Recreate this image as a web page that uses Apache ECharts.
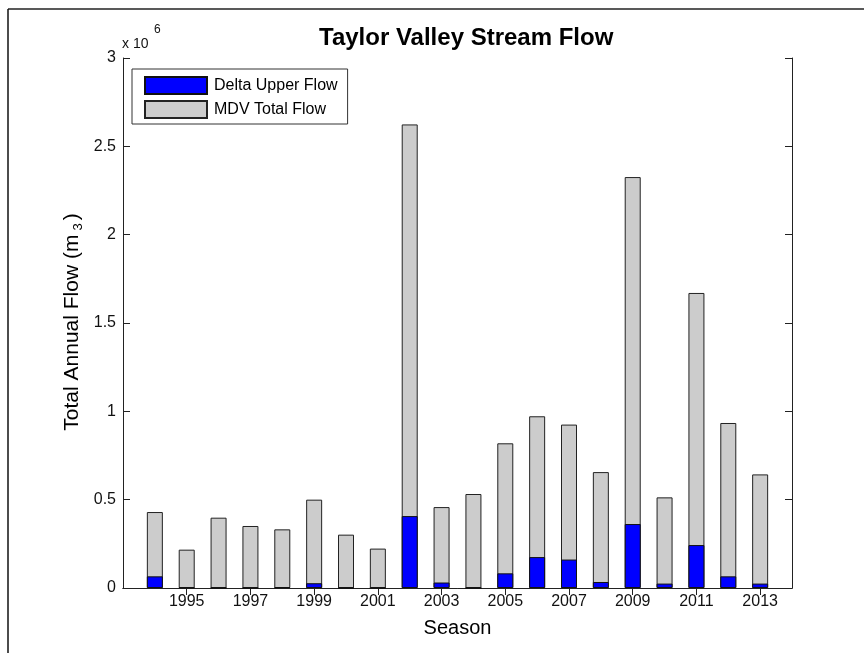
<!DOCTYPE html>
<html>
<head>
<meta charset="utf-8">
<script src="https://cdn.jsdelivr.net/npm/echarts@6/dist/echarts.min.js"></script>
<style>
html,body{margin:0;padding:0;background:#fff;}
#chart{width:864px;height:653px;}
</style>
</head>
<body>
<div id="chart"></div>
<script>
// Data (flow in units of 10^6 m^3)
var years = [1994, 1995, 1996, 1997, 1998, 1999, 2000, 2001, 2002, 2003, 2004, 2005, 2006, 2007, 2008, 2009, 2010, 2011, 2012, 2013];
var mdvTotalFlow = [0.430, 0.217, 0.398, 0.351, 0.332, 0.500, 0.302, 0.223, 2.624, 0.458, 0.532, 0.819, 0.972, 0.925, 0.656, 2.326, 0.513, 1.670, 0.934, 0.643];
var deltaUpperFlow = [0.066, 0.003, 0.000, 0.000, 0.004, 0.027, 0.000, 0.000, 0.407, 0.031, 0.000, 0.083, 0.175, 0.161, 0.034, 0.362, 0.025, 0.243, 0.066, 0.025];
var xTickYears = [1995, 1997, 1999, 2001, 2003, 2005, 2007, 2009, 2011, 2013];
var seriesNames = ['Delta Upper Flow', 'MDV Total Flow'];

function pairs(xs, ys) { return xs.map(function (x, i) { return [x, ys[i]]; }); }

var FONT = 'Liberation Sans, Arial, sans-serif';
var AX = '#222';
var chart = echarts.init(document.getElementById('chart'), null, {renderer: 'canvas'});

var xBase = {
  type: 'value', min: 1993, max: 2014,
  axisLine: {show: true, lineStyle: {color: AX, width: 1}},
  axisTick: {show: true, inside: true, length: 7, customValues: xTickYears, lineStyle: {color: AX}},
  splitLine: {show: false}
};
var yBase = {
  type: 'value', min: 0, max: 3, interval: 0.5,
  axisLine: {show: true, lineStyle: {color: AX, width: 1}},
  axisTick: {show: true, inside: true, length: 7, lineStyle: {color: AX}},
  splitLine: {show: false}
};

chart.setOption({
  animation: false,
  backgroundColor: '#fff',
  title: {
    text: 'Taylor Valley Stream Flow',
    left: 319, top: 26, padding: 0,
    textStyle: {fontFamily: FONT, fontSize: 24, fontWeight: 'bold', color: '#000'}
  },
  legend: {
    data: seriesNames,
    orient: 'vertical',
    left: 132, top: 69,
    padding: [7, 10, 5, 12],
    itemGap: 5,
    itemWidth: 62, itemHeight: 17,
    icon: 'rect',
    backgroundColor: '#fff',
    borderColor: '#333', borderWidth: 1, borderRadius: 0,
    textStyle: {fontFamily: FONT, fontSize: 16, color: '#000', padding: [0, 0, 0, 2]}
  },
  grid: {left: 123, right: 72, top: 58, bottom: 65, containLabel: false},
  xAxis: [
    Object.assign({}, xBase, {
      position: 'bottom',
      name: 'Season', nameLocation: 'middle', nameGap: 30,
      nameTextStyle: {fontFamily: FONT, fontSize: 20, color: '#000'},
      axisLabel: {
        show: true, customValues: xTickYears, margin: 6, fontFamily: FONT, fontSize: 16, color: '#111',
        formatter: function (v) { return String(v); }
      }
    }),
    Object.assign({}, xBase, {position: 'top', axisLabel: {show: false}})
  ],
  yAxis: [
    Object.assign({}, yBase, {
      position: 'left',
      axisLabel: {show: true, margin: 7, fontFamily: FONT, fontSize: 16, color: '#111'}
    }),
    Object.assign({}, yBase, {position: 'right', axisLabel: {show: false}})
  ],
  graphic: [
    {type: 'line', shape: {x1: 8, y1: 9, x2: 864, y2: 9}, style: {stroke: '#222', lineWidth: 1.5}, silent: true},
    {type: 'line', shape: {x1: 8, y1: 9, x2: 8, y2: 653}, style: {stroke: '#111', lineWidth: 1.5}, silent: true},
    {
      type: 'text', left: 122, top: 37,
      style: {text: 'x 10', fontFamily: FONT, fontSize: 14, fill: '#111'}
    },
    {
      type: 'text', left: 154, top: 24,
      style: {text: '6', fontFamily: FONT, fontSize: 12, fill: '#111'}
    },
    {
      type: 'text', x: 72, y: 322, rotation: Math.PI / 2,
      style: {
        text: '{a|Total Annual Flow (m}{s|3}{a|)}',
        align: 'center', verticalAlign: 'middle',
        rich: {
          a: {fontFamily: FONT, fontSize: 21, color: '#000', lineHeight: 26},
          s: {fontFamily: FONT, fontSize: 13, color: '#000', lineHeight: 13, verticalAlign: 'bottom', padding: [0, 3, 0, 4]}
        }
      }
    }
  ],
  series: [
    {
      name: 'MDV Total Flow', type: 'bar', xAxisIndex: 0, yAxisIndex: 0,
      data: pairs(years, mdvTotalFlow),
      barWidth: 16, barGap: '-100%',
      itemStyle: {color: '#cccccc', borderColor: '#222', borderWidth: 1}
    },
    {
      name: 'Delta Upper Flow', type: 'bar', xAxisIndex: 0, yAxisIndex: 0,
      data: pairs(years, deltaUpperFlow),
      barWidth: 16, barGap: '-100%',
      itemStyle: {color: '#0000ff', borderColor: '#111', borderWidth: 1}
    }
  ]
});
</script>
</body>
</html>
